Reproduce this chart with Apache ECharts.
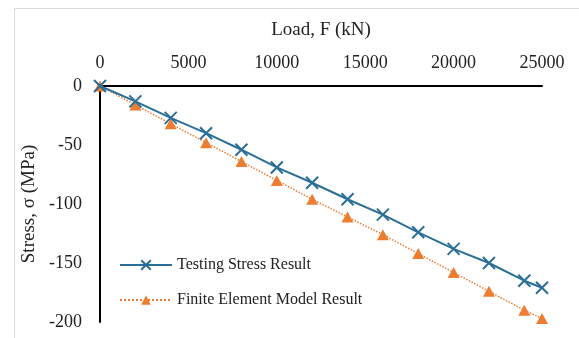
<!DOCTYPE html>
<html>
<head>
<meta charset="utf-8">
<script src="https://cdn.jsdelivr.net/npm/echarts@6/dist/echarts.min.js"></script>
<style>
html,body{margin:0;padding:0;background:#fff;}
#chart{width:579px;height:338px;}
</style>
</head>
<body>
<div id="chart"></div>
<script>
const loads = [0, 2000, 4000, 6000, 8000, 10000, 12000, 14000, 16000, 18000, 20000, 22000, 24000, 25000];
const testingStress = [0, -13, -27, -40, -54, -69, -82, -96, -109, -124, -138, -150, -165, -171];
const feModelStress = [0, -16, -32, -48, -64, -80, -96, -111, -126, -142, -158, -174, -190, -197];
const seriesNames = ['Testing Stress Result', 'Finite Element Model Result'];
const xTitle = 'Load, F (kN)';
const yTitle = 'Stress, σ (MPa)';

const FONT = '"Liberation Serif", "Times New Roman", serif';
const BLUE = '#2a6f97';
const ORANGE = '#ed7d31';

const chart = echarts.init(document.getElementById('chart'), null, {renderer: 'canvas'});
chart.setOption({
  backgroundColor: '#fff',
  animation: false,
  textStyle: {fontFamily: FONT, color: '#000'},
  graphic: [{
    type: 'rect',
    shape: {x: 14.5, y: 8.5, width: 700, height: 500},
    style: {fill: 'none', stroke: '#d9d9d9', lineWidth: 1},
    silent: true, z: -1
  }],
  grid: {left: 100, top: 86, right: 37, bottom: 16},
  legend: {
    orient: 'vertical',
    left: 114, top: 252,
    itemWidth: 52, itemHeight: 12, itemGap: 19,
    textStyle: {fontFamily: FONT, fontSize: 16, color: '#222'},
    data: seriesNames
  },
  xAxis: {
    type: 'value', position: 'top',
    min: 0, max: 25000, interval: 5000,
    name: xTitle, nameLocation: 'middle', nameGap: 46,
    nameTextStyle: {fontFamily: FONT, fontSize: 19, color: '#222'},
    axisLine: {show: true, onZero: false, lineStyle: {color: '#000', width: 2}},
    axisTick: {show: false},
    splitLine: {show: false},
    axisLabel: {fontFamily: FONT, fontSize: 18, color: '#222', margin: 14,
      formatter: v => String(v)}
  },
  yAxis: {
    type: 'value',
    min: -200, max: 0, interval: 50,
    name: yTitle, nameLocation: 'middle', nameGap: 61,
    nameTextStyle: {fontFamily: FONT, fontSize: 19, color: '#222'},
    axisLine: {show: true, onZero: false, lineStyle: {color: '#000', width: 2}},
    axisTick: {show: false},
    splitLine: {show: false},
    axisLabel: {fontFamily: FONT, fontSize: 18, color: '#222', margin: 18,
      formatter: v => String(v)}
  },
  series: [
    {
      name: seriesNames[0], type: 'line',
      data: loads.map((x, i) => [x, testingStress[i]]),
      symbol: 'path://M0,0 L10,10 M10,0 L0,10',
      symbolSize: 12,
      showAllSymbol: true,
      lineStyle: {color: BLUE, width: 2},
      itemStyle: {color: 'none', borderColor: BLUE, borderWidth: 2},
      z: 3
    },
    {
      name: seriesNames[1], type: 'line',
      data: loads.map((x, i) => [x, feModelStress[i]]),
      symbol: 'triangle',
      symbolSize: [12, 11],
      showAllSymbol: true,
      lineStyle: {color: ORANGE, width: 1.5, type: 'dotted'},
      itemStyle: {color: ORANGE},
      z: 2
    }
  ]
});
</script>
</body>
</html>
